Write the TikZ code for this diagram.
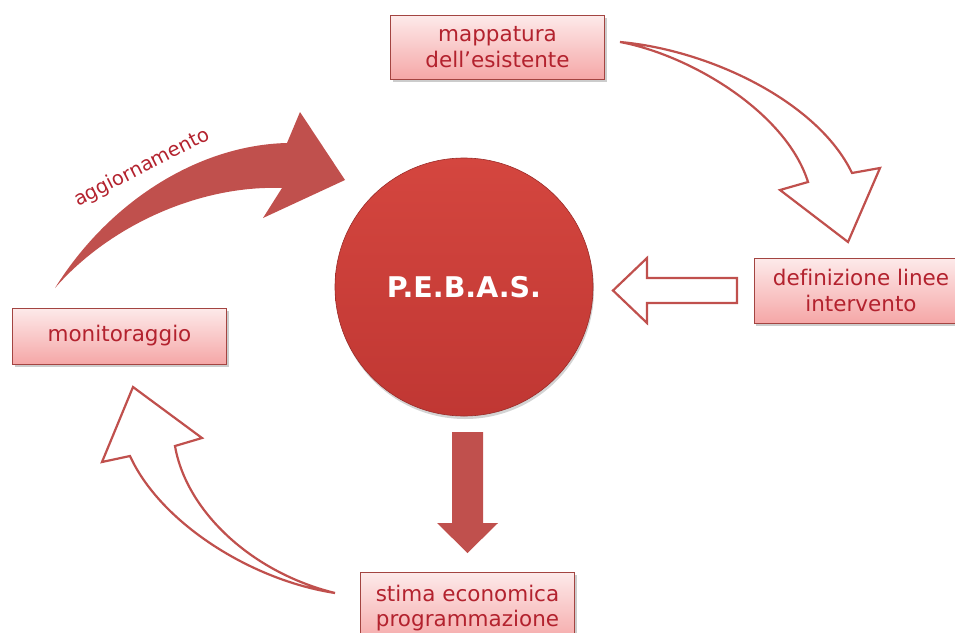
\documentclass[tikz,border=0pt]{standalone}
\usepackage{fontspec}
\setmainfont[Ligatures=NoCommon]{DejaVu Sans}
\usetikzlibrary{shadows}
\definecolor{txtred}{HTML}{B3222E}
\definecolor{arrred}{HTML}{C0504D}
\definecolor{edgered}{HTML}{C0504D}
\definecolor{boxtop}{HTML}{FDEAEA}
\definecolor{boxbot}{HTML}{F5A7A7}
\definecolor{circtop}{HTML}{D4463F}
\definecolor{circbot}{HTML}{C03733}
\begin{document}
\begin{tikzpicture}[x=1pt,y=-1pt,
  stepbox/.style={draw=edgered!85!black, line width=0.8pt, top color=boxtop, bottom color=boxbot,
    minimum width=214pt, text=txtred, align=center, inner sep=0pt,
    font=\fontsize{21.5}{25.5}\selectfont,
    drop shadow={shadow xshift=2pt, shadow yshift=-2.5pt, opacity=0.4}},
  hollowarrow/.style={draw=edgered, line width=2.2pt, fill=white, line join=miter},
  solidarrow/.style={fill=arrred, draw=none}
]
\useasboundingbox (0,0) rectangle (955,632);

% central circle
\node (pebas) [circle, minimum size=258pt, draw=circbot!80!black, line width=0.6pt,
  top color=circtop, bottom color=circbot, text=white,
  font=\fontsize{28.5}{30}\selectfont\bfseries,
  drop shadow={shadow xshift=1pt, shadow yshift=-3pt, opacity=0.35}] at (464,287) {P.E.B.A.S.};

% boxes
\node (mapp) [stepbox, minimum height=64pt] at (497.5,47) {mappatura\\dell’esistente};
\node (defi) [stepbox, minimum height=65pt] at (861,290.5) {definizione linee\\intervento};
\node (moni) [stepbox, minimum height=56pt] at (119.5,336) {monitoraggio};
\node (stim) [stepbox, minimum height=72pt] at (467.5,608) {stima economica\\programmazione};

% arrow: mappatura -> definizione (hollow curved)
\coordinate (a1tail) at (620,42);
\coordinate (a1tip) at (848,242);
\draw[hollowarrow] (a1tail) .. controls (710,50) and (818,102) .. (852,173)
  -- (880,168) -- (a1tip) -- (780,190) -- (808,182)
  .. controls (786,112) and (690,55) .. (a1tail) -- cycle;

% arrow: definizione -> circle (hollow straight)
\coordinate (a3tip) at (613,290.5);
\draw[hollowarrow] (a3tip) -- (647,258) -- (647,278) -- (737,278) -- (737,303)
  -- (647,303) -- (647,323) -- cycle;

% arrow: circle -> stima (solid straight)
\coordinate (a4tip) at (467.5,553);
\fill[solidarrow] (452,432) -- (483,432) -- (483,523) -- (498,523) -- (a4tip)
  -- (437,523) -- (452,523) -- cycle;

% arrow: stima -> monitoraggio (hollow curved)
\coordinate (a5tail) at (335,593);
\coordinate (a5tip) at (133,387);
\draw[hollowarrow] (a5tail) .. controls (250,580) and (160,522) .. (130,456)
  -- (102,462) -- (a5tip) -- (202,438) -- (175,446)
  .. controls (186,510) and (250,572) .. (a5tail) -- cycle;

% arrow: monitoraggio -> circle (solid curved, aggiornamento)
\coordinate (a2tail) at (55,288);
\coordinate (a2tip) at (345,180);
\fill[solidarrow] (a2tail) .. controls (110,200) and (200,145) .. (287,143)
  -- (300,112) -- (a2tip) -- (263,218) -- (282,188)
  .. controls (200,185) and (110,225) .. (a2tail) -- cycle;

\node (agg) [text=txtred, rotate=27, font=\fontsize{19.5}{21}\selectfont] at (142,168) {aggiornamento};
\end{tikzpicture}
\end{document}
